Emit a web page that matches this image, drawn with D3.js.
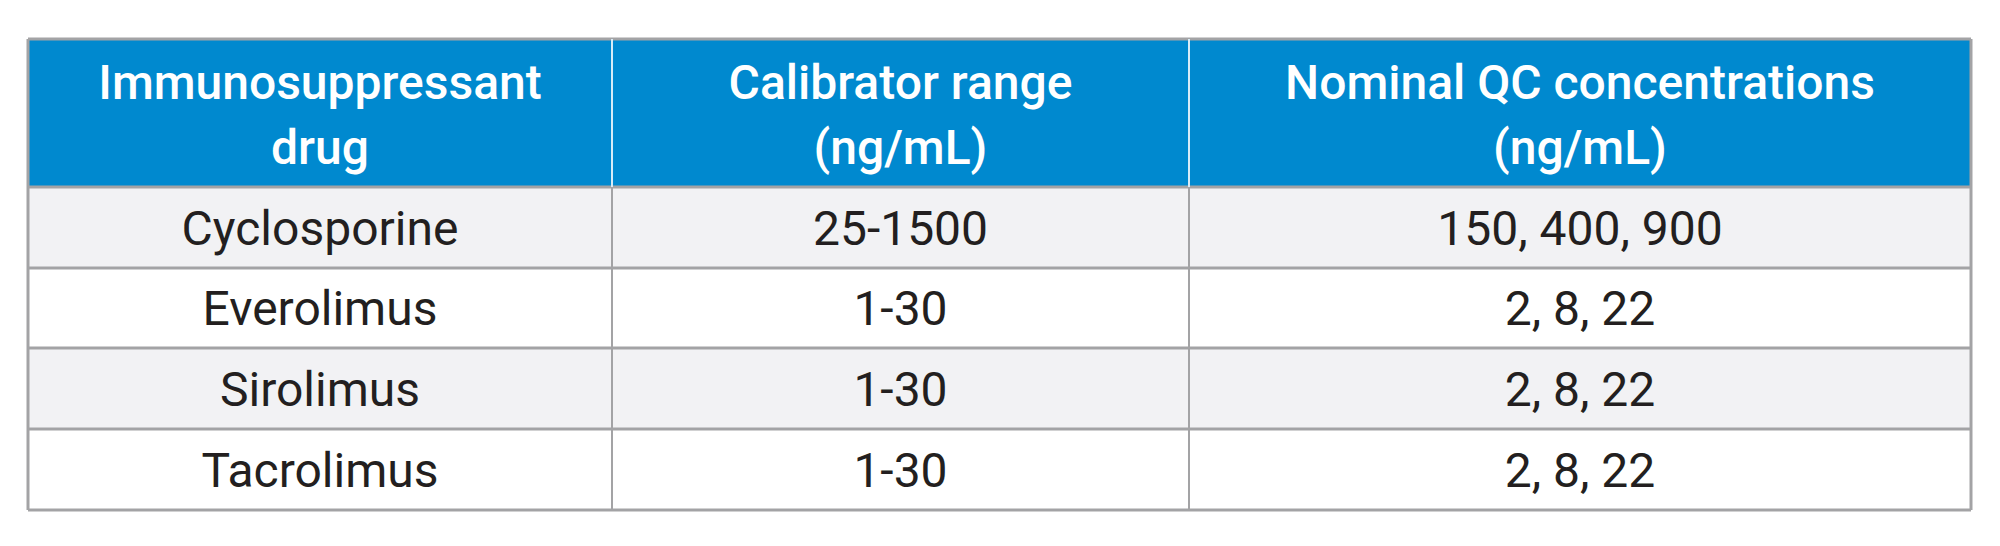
<!DOCTYPE html>
<html lang="en">
  <head>
    <meta charset="utf-8">
    <title>Immunosuppressant table</title>
    <script type="text/javascript" src="https://cdn.jsdelivr.net/npm/d3@7"></script>
    <style type="text/css">
      body { margin: 0; background: #fff; }
      text { font-family: Roboto, "Noto Sans", sans-serif; }
      .head { fill: #fff; font-weight: 500; font-size: 48px; }
      .cell { fill: #231f20; font-size: 48px; }
    </style>
  </head>
  <body>
    <script type="text/javascript">
      // table content
      var headers = [["Immunosuppressant", "drug"], ["Calibrator range", "(ng/mL)"], ["Nominal QC concentrations", "(ng/mL)"]];
      var drugs = ["Cyclosporine", "Everolimus", "Sirolimus", "Tacrolimus"];
      var calRange = ["25-1500", "1-30", "1-30", "1-30"];
      var qcConc = ["150, 400, 900", "2, 8, 22", "2, 8, 22", "2, 8, 22"];

      var W = 2000, H = 546;
      var colEdges = [28, 612, 1189, 1971];
      var rowEdges = [39, 187, 268, 348, 429, 510];

      var svg = d3.select("body").append("svg").attr("width", W).attr("height", H);

      // header band
      svg.append("rect").attr("x", colEdges[0]).attr("y", rowEdges[0])
        .attr("width", colEdges[3] - colEdges[0]).attr("height", rowEdges[1] - rowEdges[0])
        .attr("fill", "#0089cf");

      var rows = drugs.map(function (d, i) { return [d, calRange[i], qcConc[i]]; });

      svg.selectAll(".band").data(rows).enter().append("rect")
        .attr("x", colEdges[0]).attr("y", function (d, i) { return rowEdges[i + 1]; })
        .attr("width", colEdges[3] - colEdges[0])
        .attr("height", function (d, i) { return rowEdges[i + 2] - rowEdges[i + 1]; })
        .attr("fill", function (d, i) { return i % 2 == 0 ? "#f2f2f4" : "#fff"; });

      // header text
      headers.forEach(function (h, c) {
        var cx = (colEdges[c] + colEdges[c + 1]) / 2;
        h.forEach(function (line, k) {
          svg.append("text").attr("class", "head").attr("x", cx).attr("y", 99 + k * 65)
            .attr("text-anchor", "middle").text(line);
        });
      });

      // body text
      rows.forEach(function (r, i) {
        var cy = (rowEdges[i + 1] + rowEdges[i + 2]) / 2;
        r.forEach(function (v, c) {
          svg.append("text").attr("class", "cell")
            .attr("x", (colEdges[c] + colEdges[c + 1]) / 2).attr("y", cy + 17)
            .attr("text-anchor", "middle").text(v);
        });
      });

      // grid lines
      rowEdges.forEach(function (y, i) {
        svg.append("line").attr("x1", colEdges[0]).attr("x2", colEdges[3]).attr("y1", y).attr("y2", y)
          .attr("stroke", "#a3a3a5").attr("stroke-width", 3);
      });
      colEdges.forEach(function (x, i) {
        var inner = i > 0 && i < colEdges.length - 1;
        if (inner) {
          svg.append("line").attr("x1", x).attr("x2", x).attr("y1", rowEdges[0]).attr("y2", rowEdges[1])
            .attr("stroke", "#d8ecf7").attr("stroke-width", 2);
        }
        svg.append("line").attr("x1", x).attr("x2", x)
          .attr("y1", inner ? rowEdges[1] : rowEdges[0]).attr("y2", rowEdges[5])
          .attr("stroke", "#a3a3a5").attr("stroke-width", inner ? 2 : 3);
      });
    </script>
  </body>
</html>
